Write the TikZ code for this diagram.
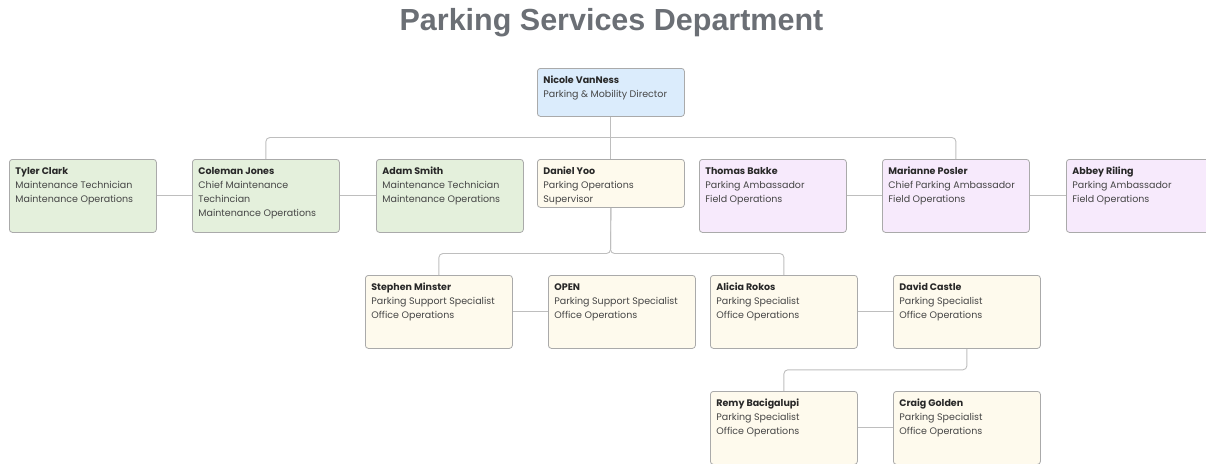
\documentclass[tikz,border=0pt]{standalone}
\usepackage{fontspec}
\setmainfont{Poppins}
\newfontfamily\titlefont{Liberation Sans}
\usepackage{xcolor}

\definecolor{cardline}{RGB}{170,170,170}
\definecolor{linkgray}{RGB}{190,190,190}
\definecolor{txtgray}{RGB}{70,70,70}
\definecolor{namegray}{RGB}{40,40,40}
\definecolor{titlegray}{RGB}{107,111,117}
\definecolor{maintgreen}{RGB}{228,240,220}
\definecolor{headblue}{RGB}{219,236,252}
\definecolor{officeyellow}{RGB}{254,250,237}
\definecolor{fieldpurple}{RGB}{247,234,252}

% card text: fixed height, set from the top
\newcommand{\staff}[3]{\parbox[c][#1][t]{135pt}{\rule{0pt}{10pt}{\color{namegray}\bfseries #2}\\#3}}

\begin{document}
\begin{tikzpicture}[x=1pt, y=-1pt,
    card/.style={
        draw=cardline, line width=0.8pt, rounded corners=3pt,
        anchor=north west, inner sep=0pt,
        minimum width=147pt, minimum height=73pt,
        font=\fontsize{9.5pt}{13.9pt}\selectfont, text=txtgray
    },
    short/.style={minimum height=48pt},
    maint/.style={card, fill=maintgreen},
    head/.style={card, short, fill=headblue},
    office/.style={card, fill=officeyellow},
    field/.style={card, fill=fieldpurple},
    link/.style={draw=linkgray, line width=0.9pt, rounded corners=4pt}
]
\clip (0,0) rectangle (1206,463);

% Title
\node[font=\titlefont\bfseries\fontsize{30.5pt}{34pt}\selectfont, text=titlegray, anchor=base]
    (title) at (611.5,30) {Parking Services Department};

% Director
\node[head] (nicole) at (537,68) {\staff{37pt}{Nicole VanNess}{Parking \& Mobility Director}};

% First level
\node[maint] (tyler)    at (9,159)   {\staff{62pt}{Tyler Clark}{Maintenance Technician\\Maintenance Operations}};
\node[maint] (coleman)  at (192,159) {\staff{62pt}{Coleman Jones}{Chief Maintenance\\Techincian\\Maintenance Operations}};
\node[maint] (adam)     at (376,159) {\staff{62pt}{Adam Smith}{Maintenance Technician\\Maintenance Operations}};
\node[office, short] (daniel) at (537,159) {\staff{37pt}{Daniel Yoo}{Parking Operations\\Supervisor}};
\node[field] (thomas)   at (699,159) {\staff{62pt}{Thomas Bakke}{Parking Ambassador\\Field Operations}};
\node[field] (marianne) at (882,159) {\staff{62pt}{Marianne Posler}{Chief Parking Ambassador\\Field Operations}};
\node[field] (abbey)    at (1066,159) {\staff{62pt}{Abbey Riling}{Parking Ambassador\\Field Operations}};

% Office operations
\node[office] (stephen) at (365,275) {\staff{62pt}{Stephen Minster}{Parking Support Specialist\\Office Operations}};
\node[office] (open)    at (548,275) {\staff{62pt}{OPEN}{Parking Support Specialist\\Office Operations}};
\node[office] (alicia)  at (710,275) {\staff{62pt}{Alicia Rokos}{Parking Specialist\\Office Operations}};
\node[office] (castle)  at (893,275) {\staff{62pt}{David Castle}{Parking Specialist\\Office Operations}};
\node[office] (remy)    at (710,391) {\staff{62pt}{Remy Bacigalupi}{Parking Specialist\\Office Operations}};
\node[office] (craig)   at (893,391) {\staff{62pt}{Craig Golden}{Parking Specialist\\Office Operations}};

% Reporting lines
\coordinate (bus1) at (610.5,137.5);
\coordinate (bus2) at (610.5,253.5);
\draw[link] (nicole.south) -- (daniel.north);
\draw[link] (coleman.north) |- (bus1) -| (marianne.north);
\draw[link] (daniel.south) -- (bus2) -| (stephen.north);
\draw[link] (daniel.south) -- (bus2) -| (alicia.north);
\draw[link] (castle.south) -- ++(0,21) -| (remy.north);

% Peer lines
\draw[link] (tyler) -- (coleman);
\draw[link] (coleman) -- (adam);
\draw[link] (thomas) -- (marianne);
\draw[link] (marianne) -- (abbey);
\draw[link] (stephen) -- (open);
\draw[link] (alicia) -- (castle);
\draw[link] (remy) -- (craig);

\end{tikzpicture}
\end{document}
